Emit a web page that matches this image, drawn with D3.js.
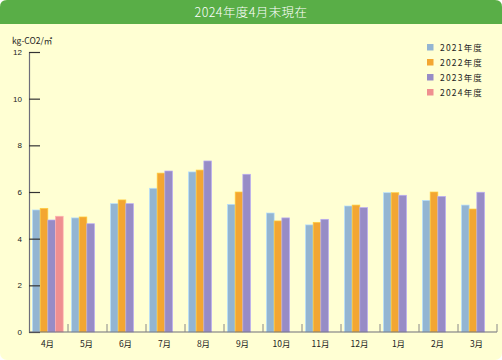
<!DOCTYPE html>
<html><head><meta charset="utf-8">
<script src="https://cdn.jsdelivr.net/npm/d3@7"></script>
<style>html,body{margin:0;padding:0;background:#fff;}svg{display:block;}</style>
</head><body>
<script>
const title = "2024年度4月末現在";
const unitLabel = "kg-CO2/㎡";
const months = ["4月","5月","6月","7月","8月","9月","10月","11月","12月","1月","2月","3月"];
const seriesNames = ["2021年度","2022年度","2023年度","2024年度"];
const seriesColors = ["#93b5d2","#f3a632","#978cc6","#ef8f90"];
const v2021 = [5.23,4.89,5.50,6.16,6.86,5.47,5.10,4.59,5.40,5.97,5.64,5.44];
const v2022 = [5.30,4.93,5.66,6.81,6.94,6.00,4.76,4.70,5.44,5.97,6.00,5.27];
const v2023 = [4.80,4.64,5.50,6.90,7.33,6.76,4.89,4.83,5.33,5.86,5.81,5.99];
const v2024 = [4.96];
const yTicks = [0,2,4,6,8,10,12];

const W=502,H=360;
const svg=d3.select("body").append("svg").attr("width",W).attr("height",H);
svg.append("rect").attr("x",0).attr("y",0).attr("width",W).attr("height",H).attr("rx",7).attr("fill","#ffffd3");
// title bar
svg.append("path").attr("d",`M0,24 V7 Q0,0 7,0 H${W-7} Q${W},0 ${W},7 V24 Z`).attr("fill","#59ae47");
svg.append("text").attr("x",W/2).attr("y",17).attr("text-anchor","middle")
  .attr("font-family","Noto Sans CJK JP, sans-serif").attr("font-weight",300).attr("letter-spacing",0.4)
  .attr("font-size",12.5).attr("fill","#fff").text(title);

const x0=d3.scaleBand().domain(months).range([29,497]).paddingInner(0).paddingOuter(0);
const y=d3.scaleLinear().domain([0,12]).range([332,52]);
const series=[v2021,v2022,v2023,v2024];
const x1=d3.scaleBand().domain(d3.range(4)).range([3.5,3.5+7.67*4]);

// bars
series.forEach((vals,si)=>{
  svg.append("g").selectAll("rect").data(vals).join("rect")
    .attr("x",(d,i)=>x0(months[i])+x1(si))
    .attr("y",d=>y(d))
    .attr("width",x1.bandwidth())
    .attr("height",d=>y(0)-y(d))
    .attr("fill",seriesColors[si])
    .attr("stroke",d3.color(seriesColors[si]).brighter(0.6))
    .attr("stroke-width",0.7);
});

// y axis
const yAxis=d3.axisRight(y).tickValues(yTicks).tickSize(11).tickFormat("");
const gy=svg.append("g").attr("transform","translate(29,0)").call(yAxis);
gy.select(".domain").attr("stroke","#6e6e7a").attr("stroke-width",1.2);
gy.selectAll(".tick line").attr("stroke","#333").attr("stroke-width",1.2);
svg.append("g").selectAll("text").data(yTicks).join("text")
  .attr("x",22).attr("y",d=>y(d)+3).attr("text-anchor","end")
  .attr("font-family","Liberation Sans, Arial, sans-serif").attr("font-size",8).attr("fill","#222").text(d=>d);
svg.append("text").attr("x",12).attr("y",44).attr("font-family","Noto Sans CJK JP, sans-serif")
  .attr("font-size",8.5).attr("fill","#222").text(unitLabel);

// x axis
const xAxis=d3.axisTop(x0).tickSize(0).tickFormat("");
const gx=svg.append("g").attr("transform","translate(0,332)").call(xAxis);
gx.select(".domain").remove();
svg.append("line").attr("x1",29).attr("x2",497).attr("y1",332).attr("y2",332).attr("stroke","#6e6e7a").attr("stroke-width",1.2);
svg.append("g").selectAll("line").data(months.slice(1).concat(["end"])).join("line")
  .attr("x1",(d,i)=>x0(months[0])+x0.bandwidth()*(i+1)).attr("x2",(d,i)=>x0(months[0])+x0.bandwidth()*(i+1))
  .attr("y1",324).attr("y2",332).attr("stroke","#888").attr("stroke-width",1);
svg.append("g").selectAll("text").data(months).join("text")
  .attr("x",d=>x0(d)+x0.bandwidth()/2-1).attr("y",347).attr("text-anchor","middle")
  .attr("font-family","Noto Sans CJK JP, sans-serif").attr("font-size",8.5).attr("fill","#222").text(d=>d);

// legend
const lg=svg.append("g").selectAll("g").data(seriesNames).join("g")
  .attr("transform",(d,i)=>`translate(427,${44+i*15})`);
lg.append("rect").attr("width",6.5).attr("height",6.5).attr("fill",(d,i)=>seriesColors[i]);
lg.append("text").attr("x",13).attr("y",7).attr("font-family","Noto Sans CJK JP, sans-serif")
  .attr("font-size",8.5).attr("letter-spacing",1.2).attr("fill","#222").text(d=>d);
</script>
</body></html>
